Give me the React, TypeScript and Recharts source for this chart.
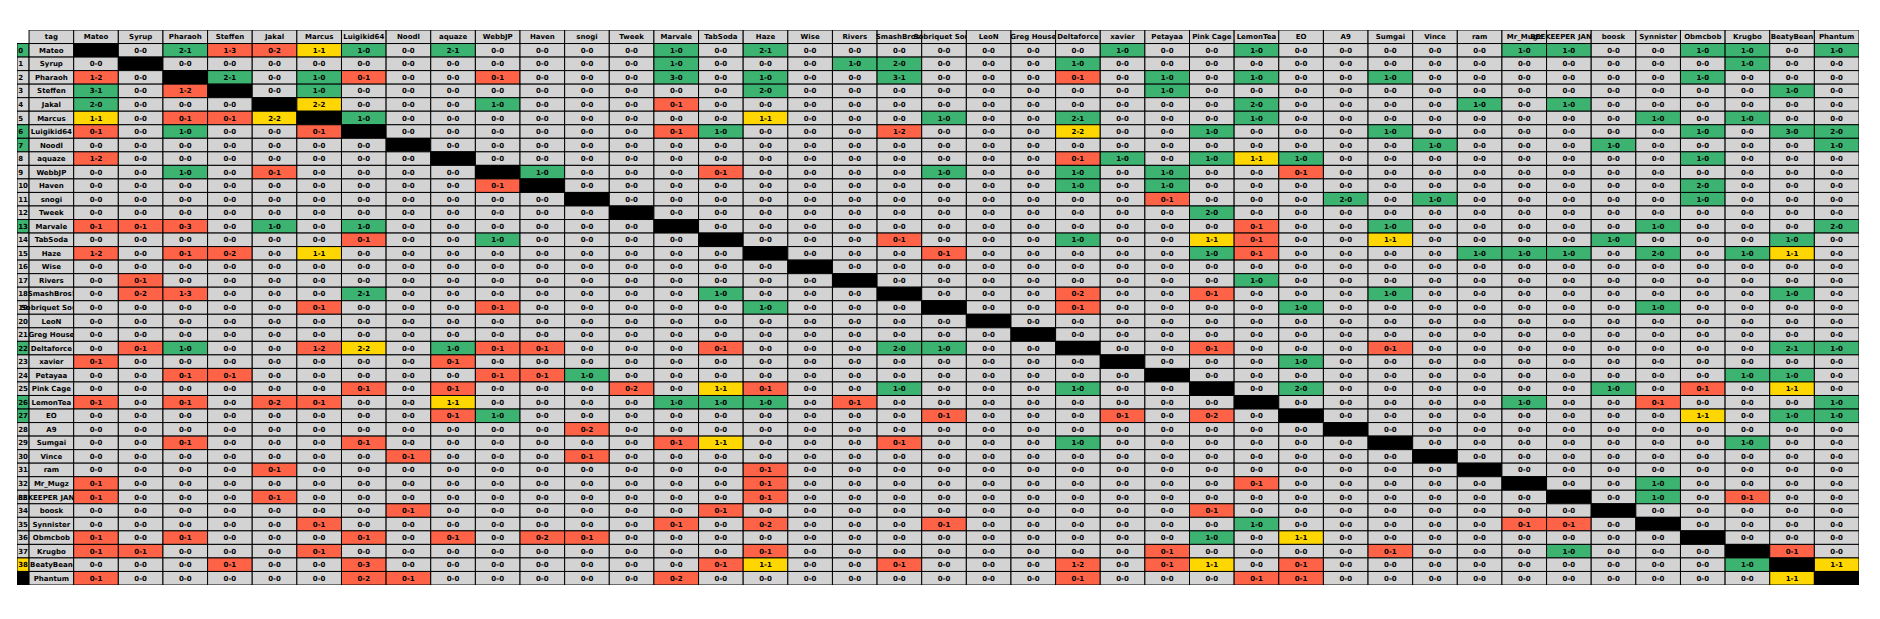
import React from 'react';
import { ScatterChart, Scatter, XAxis, YAxis } from 'recharts';

// ---- data ----
const headerLabel = 'tag';

const players: string[] = [
  'Mateo', 'Syrup', 'Pharaoh', 'Steffen', 'Jakal', 'Marcus', 'Luigikid64', 'Noodl', 'aquaze', 'WebbJP',
  'Haven', 'snogi', 'Tweek', 'Marvale', 'TabSoda', 'Haze', 'Wise', 'Rivers', 'SmashBros!', 'Sobriquet Soup',
  'LeoN', 'Greg House', 'Deltaforce', 'xavier', 'Petayaa', 'Pink Cage', 'LemonTea', 'EO', 'A9', 'Sumgai',
  'Vince', 'ram', 'Mr_Mugz', 'BEEKEEPER JANZEN', 'boosk', 'Synnister', 'Obmcbob', 'Krugbo', 'BeatyBean', 'Phantum',
];

const defaultScore = '0-0';

// non "0-0" head-to-head results of each row player, as "column:wins-losses"
const results: string[] = [
  '2:2-1 3:1-3 4:0-2 5:1-1 6:1-0 8:2-1 13:1-0 15:2-1 23:1-0 26:1-0 32:1-0 33:1-0 36:1-0 37:1-0 39:1-0',
  '13:1-0 17:1-0 18:2-0 22:1-0 37:1-0',
  '0:1-2 3:2-1 5:1-0 6:0-1 9:0-1 13:3-0 15:1-0 18:3-1 22:0-1 24:1-0 26:1-0 29:1-0 36:1-0',
  '0:3-1 2:1-2 5:1-0 15:2-0 24:1-0 38:1-0',
  '0:2-0 5:2-2 9:1-0 13:0-1 26:2-0 31:1-0 33:1-0',
  '0:1-1 2:0-1 3:0-1 4:2-2 6:1-0 15:1-1 19:1-0 22:2-1 26:1-0 35:1-0 37:1-0',
  '0:0-1 2:1-0 5:0-1 13:0-1 14:1-0 18:1-2 22:2-2 25:1-0 29:1-0 36:1-0 38:3-0 39:2-0',
  '30:1-0 34:1-0 39:1-0',
  '0:1-2 22:0-1 23:1-0 25:1-0 26:1-1 27:1-0 36:1-0',
  '2:1-0 4:0-1 10:1-0 14:0-1 19:1-0 22:1-0 24:1-0 27:0-1',
  '9:0-1 22:1-0 24:1-0 36:2-0',
  '24:0-1 28:2-0 30:1-0 36:1-0',
  '25:2-0',
  '0:0-1 1:0-1 2:0-3 4:1-0 6:1-0 26:0-1 29:1-0 35:1-0 39:2-0',
  '6:0-1 9:1-0 18:0-1 22:1-0 25:1-1 26:0-1 29:1-1 34:1-0 38:1-0',
  '0:1-2 2:0-1 3:0-2 5:1-1 19:0-1 25:1-0 26:0-1 31:1-0 32:1-0 33:1-0 35:2-0 37:1-0 38:1-1',
  '',
  '1:0-1 26:1-0',
  '1:0-2 2:1-3 6:2-1 14:1-0 22:0-2 25:0-1 29:1-0 38:1-0',
  '5:0-1 9:0-1 15:1-0 22:0-1 27:1-0 35:1-0',
  '',
  '',
  '1:0-1 2:1-0 5:1-2 6:2-2 8:1-0 9:0-1 10:0-1 14:0-1 18:2-0 19:1-0 25:0-1 29:0-1 38:2-1 39:1-0',
  '0:0-1 8:0-1 27:1-0',
  '2:0-1 3:0-1 9:0-1 10:0-1 11:1-0 37:1-0 38:1-0',
  '6:0-1 8:0-1 12:0-2 14:1-1 15:0-1 18:1-0 22:1-0 27:2-0 34:1-0 36:0-1 38:1-1',
  '0:0-1 2:0-1 4:0-2 5:0-1 8:1-1 13:1-0 14:1-0 15:1-0 17:0-1 32:1-0 35:0-1 39:1-0',
  '8:0-1 9:1-0 19:0-1 23:0-1 25:0-2 36:1-1 38:1-0 39:1-0',
  '11:0-2',
  '2:0-1 6:0-1 13:0-1 14:1-1 18:0-1 22:1-0 37:1-0',
  '7:0-1 11:0-1',
  '4:0-1 15:0-1',
  '0:0-1 15:0-1 26:0-1 35:1-0',
  '0:0-1 4:0-1 15:0-1 35:1-0 37:0-1',
  '7:0-1 14:0-1 25:0-1',
  '5:0-1 13:0-1 15:0-2 19:0-1 26:1-0 32:0-1 33:0-1',
  '0:0-1 2:0-1 6:0-1 8:0-1 10:0-2 11:0-1 25:1-0 27:1-1',
  '0:0-1 1:0-1 5:0-1 15:0-1 24:0-1 29:0-1 33:1-0 38:0-1',
  '3:0-1 6:0-3 14:0-1 15:1-1 18:0-1 22:1-2 24:0-1 25:1-1 27:0-1 37:1-0 39:1-1',
  '0:0-1 6:0-2 7:0-1 13:0-2 22:0-1 26:0-1 27:0-1 38:1-1',
];

// ---- styling ----
const COLORS = {
  win: '#3cb371',
  loss: '#ff6347',
  tie: '#ffd700',
  none: '#d3d3d3',
  self: '#000000',
};

const W = 1864;
const H = 603;
const MARGIN = { top: 22, right: 13, bottom: 26, left: 9 };
const IDX_FRAC = 0.27; // width of the row-number column, in column units
const X_DOMAIN: [number, number] = [-1 - IDX_FRAC, players.length];
const Y_DOMAIN: [number, number] = [-1, players.length];
const pxPerX = (W - MARGIN.left - MARGIN.right) / (X_DOMAIN[1] - X_DOMAIN[0]);
const pxPerY = (H - MARGIN.top - MARGIN.bottom) / (Y_DOMAIN[1] - Y_DOMAIN[0]);

// ---- build table ----
const matrix: string[][] = players.map((_, r) => {
  const row = players.map((__, c) => (r === c ? '' : defaultScore));
  results[r]
    .split(' ')
    .filter(Boolean)
    .forEach((tok) => {
      const [c, s] = tok.split(':');
      row[Number(c)] = s;
    });
  return row;
});

const fillOf = (r: number, c: number) => {
  if (r === c) return COLORS.self;
  const [w, l] = matrix[r][c].split('-').map(Number);
  if (w > l) return COLORS.win;
  if (w < l) return COLORS.loss;
  if (w > 0) return COLORS.tie;
  return COLORS.none;
};

type Cell = { x: number; y: number; text: string; fill: string; kind: 'idx' | 'cell' };

const cells: Cell[] = [];
// header row
cells.push({ x: -0.5, y: -0.5, text: headerLabel, fill: COLORS.none, kind: 'cell' });
players.forEach((p, c) => cells.push({ x: c + 0.5, y: -0.5, text: p, fill: COLORS.none, kind: 'cell' }));
// body rows
players.forEach((p, r) => {
  cells.push({
    x: -1 - IDX_FRAC / 2,
    y: r + 0.5,
    text: String(r),
    fill: fillOf(r, players.length - 1),
    kind: 'idx',
  });
  cells.push({ x: -0.5, y: r + 0.5, text: p, fill: COLORS.none, kind: 'cell' });
  players.forEach((__, c) =>
    cells.push({ x: c + 0.5, y: r + 0.5, text: matrix[r][c], fill: fillOf(r, c), kind: 'cell' }),
  );
});

const CellShape = (props: any) => {
  const { cx, cy, payload } = props;
  if (cx == null || cy == null || !payload) return null;
  const isIdx = payload.kind === 'idx';
  const w = isIdx ? IDX_FRAC * pxPerX : pxPerX;
  const h = pxPerY;
  const x0 = cx - w / 2;
  const y0 = cy - h / 2;
  return (
    <g>
      <rect x={x0} y={y0} width={w} height={h} fill={payload.fill} stroke="#000" strokeWidth={1} />
      {payload.text ? (
        <text
          x={isIdx ? x0 + 1.2 : cx}
          y={cy}
          dy="0.36em"
          textAnchor={isIdx ? 'start' : 'middle'}
          fontFamily="'DejaVu Sans', sans-serif"
          fontWeight="bold"
          fontSize={7}
          fill="#000"
        >
          {payload.text}
        </text>
      ) : null}
    </g>
  );
};

export default function App() {
  return (
    <div style={{ width: W, height: H, background: '#fff' }}>
      <ScatterChart width={W} height={H} margin={MARGIN}>
        <XAxis type="number" dataKey="x" domain={X_DOMAIN} hide allowDataOverflow />
        <YAxis type="number" dataKey="y" domain={Y_DOMAIN} reversed hide allowDataOverflow />
        <Scatter data={cells} shape={CellShape} isAnimationActive={false} />
      </ScatterChart>
    </div>
  );
}
